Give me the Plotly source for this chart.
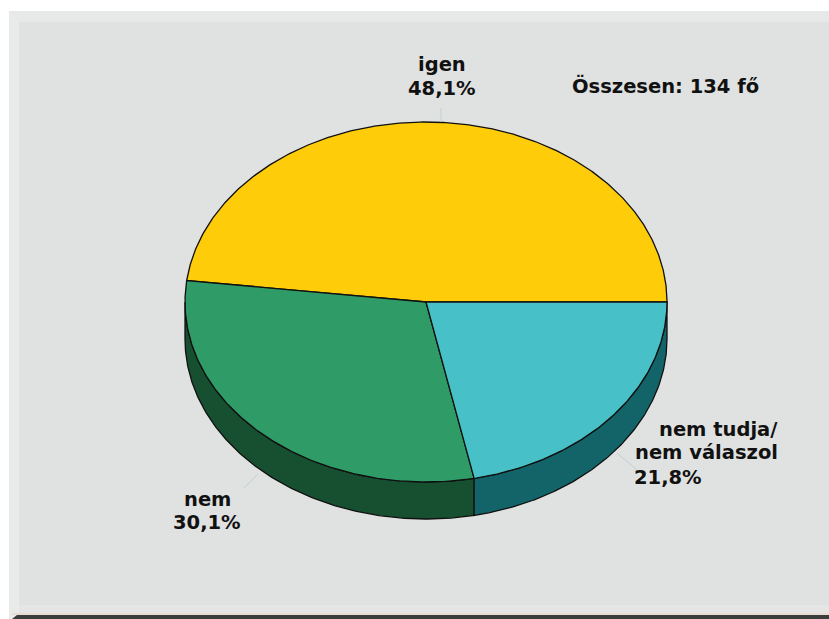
import numpy as np
import plotly.graph_objects as go

# Survey answers, in drawing order counter-clockwise from the east edge
categories = ["igen", "nem", "nem tudja/<br>nem válaszol"]
shares = [48.1, 30.1, 21.8]
top_colors = ["#FFCC0A", "#2F9C68", "#47C1C7"]
side_colors = ["#9A7C06", "#174F31", "#136468"]
total_note = "Összesen: 134 fő"

W, H = 829, 619
CX, CY, RX, RY, DEPTH = 426, 302, 241, 180, 37
FONT = "DejaVu Sans, Verdana, sans-serif"


def rim(t0, t1, dy=0):
    """Points along the disc rim between two angles given in degrees."""
    t = np.radians(np.linspace(t0, t1, max(int(abs(t1 - t0)) * 2, 2)))
    return CX + RX * np.cos(t), CY - RY * np.sin(t) + dy


fig = go.Figure()


def add_poly(xs, ys, fill, line="#101010", width=1.3):
    fig.add_trace(go.Scatter(
        x=xs, y=ys, mode="lines", fill="toself", fillcolor=fill,
        line=dict(color=line, width=width), hoverinfo="skip", showlegend=False,
    ))


# Slice boundaries in degrees
edges = np.concatenate([[0.0], np.cumsum(shares) * 3.6])

# Visible side wall: only the front half of the disc
for i, color in enumerate(side_colors):
    a, b = max(edges[i], 180.0), min(edges[i + 1], 360.0)
    if b <= a:
        continue
    x_top, y_top = rim(a, b)
    x_bot, y_bot = rim(b, a, DEPTH)
    add_poly(np.r_[x_top, x_bot, x_top[0]], np.r_[y_top, y_bot, y_top[0]], color)

# Top face
for i, color in enumerate(top_colors):
    xr, yr = rim(edges[i], edges[i + 1])
    add_poly(np.r_[CX, xr, CX], np.r_[CY, yr, CY], color)

# Thin leader lines from the slices to their labels
for xs, ys in [((441, 441), (108, 122)),
               ((617, 637), (453, 470)),
               ((258, 244), (474, 488))]:
    fig.add_trace(go.Scatter(x=xs, y=ys, mode="lines",
                             line=dict(color="#C3CFD5", width=1),
                             hoverinfo="skip", showlegend=False))


def pct(v):
    return f"{v:.1f}".replace(".", ",") + "%"


def label(x, y, text, anchor="center"):
    fig.add_annotation(x=x, y=y, text=f"<b>{text}</b>", showarrow=False,
                       xanchor=anchor, yanchor="middle",
                       font=dict(family=FONT, size=19.5, color="#111111"))


label(442, 64, categories[0])
label(442, 88, pct(shares[0]))
label(207, 499, categories[1])
label(207, 522, pct(shares[1]))
first, second = categories[2].split("<br>")
label(780, 429, first, "right")
label(780, 452, second, "right")
label(632, 477, pct(shares[2]), "left")
label(570, 86, total_note, "left")

# Panel with bevelled edges behind the chart
shapes = [
    dict(type="rect", x0=9, y0=11, x1=W, y1=H, fillcolor="#E9EAEA", line_width=0, layer="below"),
    dict(type="path", path=f"M 9 11 L {W} 11 L {W} 22 L 19 22 Z",
         fillcolor="#E7E8E8", line_width=0, layer="below"),
    dict(type="rect", x0=19, y0=22, x1=W, y1=605, fillcolor="#E0E1E1", line_width=0, layer="below"),
    dict(type="rect", x0=19, y0=605, x1=W, y1=613, fillcolor="#E4E5E4", line_width=0, layer="below"),
    dict(type="rect", x0=12, y0=613, x1=W, y1=615, fillcolor="#E9DCD2", line_width=0, layer="below"),
    dict(type="path", path=f"M 12 619 L 17 615 L {W} 615 L {W} 619 Z",
         fillcolor="#3A3F3E", line_width=0, layer="below"),
]

fig.update_layout(
    width=W, height=H, margin=dict(l=0, r=0, t=0, b=0),
    paper_bgcolor="white", plot_bgcolor="white", shapes=shapes, showlegend=False,
    xaxis=dict(range=[0, W], visible=False, fixedrange=True),
    yaxis=dict(range=[H, 0], visible=False, fixedrange=True),
)
fig.write_html("out.html", config=dict(displayModeBar=False))
